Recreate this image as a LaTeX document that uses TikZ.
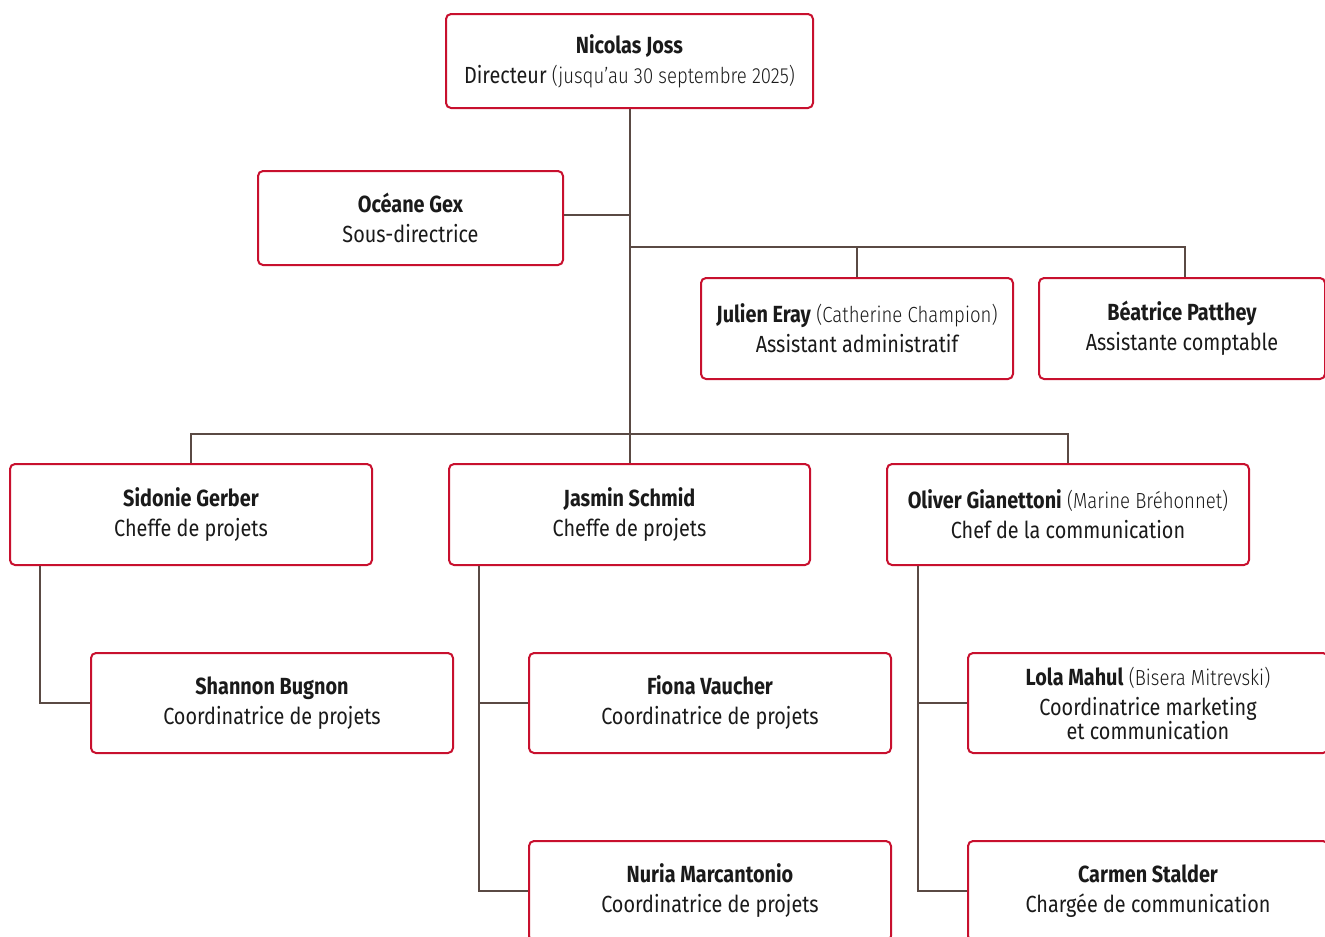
\documentclass[tikz,border=0pt]{standalone}
\usepackage{fontspec}
\setmainfont{Fira Sans}[FakeStretch=0.85]
\newfontfamily\lightf{Fira Sans Light}[FakeStretch=0.85]
\newcommand{\pnote}[1]{{\lightf\fontsize{16.4}{18}\selectfont(#1)}}
\definecolor{boxred}{HTML}{C8102E}
\definecolor{conncol}{HTML}{5A4A44}
\definecolor{txt}{HTML}{1A1A1A}
\tikzset{
  orgbox/.style={draw=boxred, line width=1.5pt, rounded corners=3.75pt, fill=white,
    align=center, text=txt, font=\fontsize{17.5}{18}\selectfont, inner sep=0pt},
  conn/.style={draw=conncol, line width=1.5pt}
}
\begin{document}
\begin{tikzpicture}[x=0.75pt, y=-0.75pt]
\useasboundingbox (0,0) rectangle (1325,936);
\clip (0,0) rectangle (1325,936);
\node[orgbox, minimum width=275.25pt, minimum height=70.5pt] (nj) at (629.5,61)
  {\textbf{Nicolas Joss}\\[4.5pt] Directeur \pnote{jusqu’au 30 septembre 2025}};
\node[orgbox, minimum width=228.75pt, minimum height=70.5pt] (og) at (410.5,218)
  {\textbf{Océane Gex}\\[4.5pt] Sous-directrice};
\node[orgbox, minimum width=234pt, minimum height=75.75pt] (je) at (857,328.5)
  {\textbf{Julien Eray} \pnote{Catherine Champion}\\[4.5pt] Assistant administratif};
\node[orgbox, minimum width=214.5pt, minimum height=75.75pt] (bp) at (1182,328.5)
  {\textbf{Béatrice Patthey}\\[4.5pt] Assistante comptable};
\node[orgbox, minimum width=271.5pt, minimum height=75.75pt] (sg) at (191,514.5)
  {\textbf{Sidonie Gerber}\\[4.5pt] Cheffe de projets};
\node[orgbox, minimum width=270.75pt, minimum height=75.75pt] (js) at (629.5,514.5)
  {\textbf{Jasmin Schmid}\\[4.5pt] Cheffe de projets};
\node[orgbox, minimum width=271.5pt, minimum height=75.75pt] (oc) at (1068,514.5)
  {\textbf{Oliver Gianettoni} \pnote{Marine Bréhonnet}\\[4.5pt] Chef de la communication};
\node[orgbox, minimum width=271.5pt, minimum height=75pt] (sb) at (272,703)
  {\textbf{Shannon Bugnon}\\[4.5pt] Coordinatrice de projets};
\node[orgbox, minimum width=271.5pt, minimum height=75pt] (fv) at (710,703)
  {\textbf{Fiona Vaucher}\\[4.5pt] Coordinatrice de projets};
\node[orgbox, minimum width=270pt, minimum height=75pt] (lm) at (1148,703)
  {\textbf{Lola Mahul} \pnote{Bisera Mitrevski}\\[4.5pt] Coordinatrice marketing\\ et communication};
\node[orgbox, minimum width=271.5pt, minimum height=75pt] (nm) at (710,891)
  {\textbf{Nuria Marcantonio}\\[4.5pt] Coordinatrice de projets};
\node[orgbox, minimum width=270pt, minimum height=75pt] (cs) at (1148,891)
  {\textbf{Carmen Stalder}\\[4.5pt] Chargée de communication};
% connectors
\draw[conn] (nj.south) -- (js.north);
\draw[conn] ([yshift=2.25pt]og.east) -- ([yshift=2.25pt]og.east -| nj.south);
\coordinate (h1) at (629.5,247);
\draw[conn] (h1) -| ([xshift=2.25pt]bp.north);
\draw[conn] (je.north) -- (je.north |- h1);
\draw[conn] (sg.north) -- ++(0,-29) -| (oc.north);
\draw[conn] ([xshift=23.25pt]sg.south west) |- (sb.west);
\draw[conn] ([xshift=23.25pt]js.south west) |- (nm.west);
\draw[conn] (fv.west) -- ++(-49,0);
\draw[conn] ([xshift=24pt]oc.south west) |- (cs.west);
\draw[conn] (lm.west) -- ++(-49,0);
\end{tikzpicture}
\end{document}
